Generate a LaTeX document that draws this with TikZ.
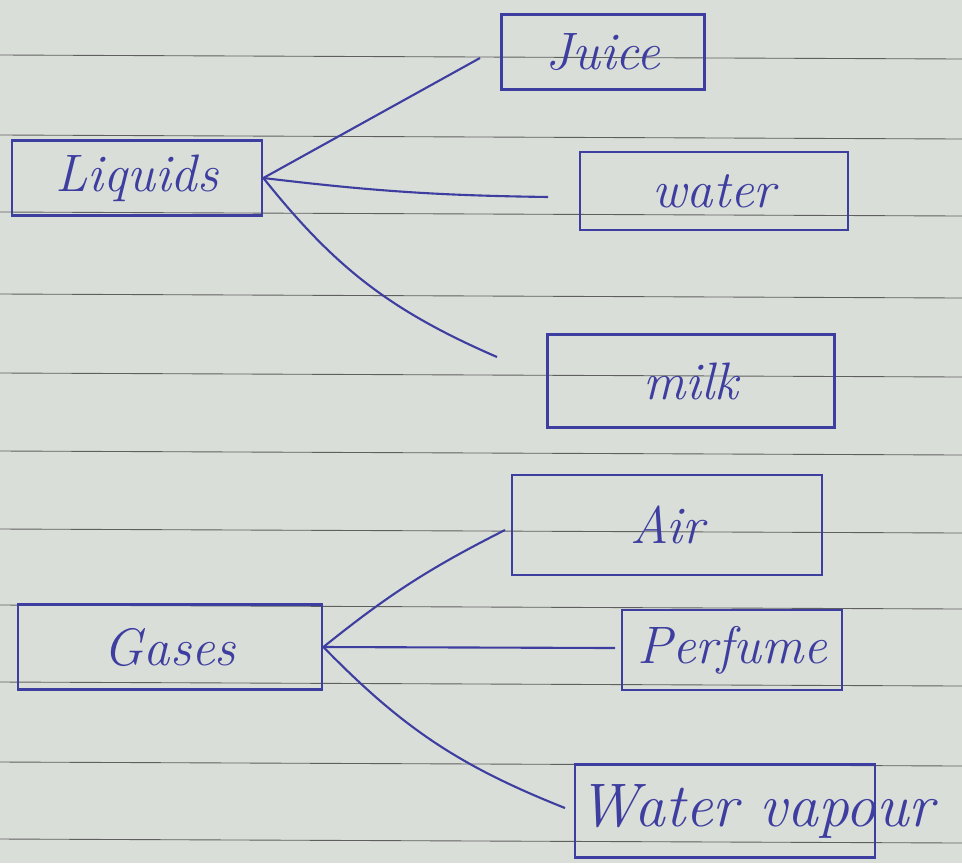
\documentclass[tikz,border=0pt]{standalone}
\usepackage{tikz}

\definecolor{ink}{RGB}{62,62,160}
\definecolor{paper}{RGB}{218,222,216}
\definecolor{rule}{RGB}{95,95,95}

\begin{document}
\begin{tikzpicture}[x=0.02cm,y=-0.02cm,
  box/.style={draw=ink,line width=1.6pt,inner sep=0pt,
    font=\fontsize{30}{34}\selectfont\itshape,text=ink},
  word/.style={inner sep=0pt,font=\fontsize{35}{40}\selectfont\itshape,text=ink},
  link/.style={draw=ink,line width=1.2pt}]
\fill[paper] (0,0) rectangle (962,863);
\useasboundingbox (0,0) rectangle (962,863);
\foreach \y in {55,135,212,294,373,451,529,605,682,762,839}
  \draw[rule,line width=0.5pt] (0,\y) -- (962,\y+4);

\node[box,minimum width=5cm,minimum height=1.5cm] (liquids) at (137,178) {Liquids};
\node[box,minimum width=4.06cm,minimum height=1.5cm] (juice) at (603,52) {Juice};
\node[box,minimum width=5.36cm,minimum height=1.56cm] (water) at (714,191) {water};
\node[box,minimum width=5.74cm,minimum height=1.86cm] (milk) at (691,381) {milk};

\node[box,minimum width=6.2cm,minimum height=2cm] (air) at (667,525) {Air};
\node[box,minimum width=6.08cm,minimum height=1.7cm] (gases) at (170,647) {Gases};
\node[box,minimum width=4.4cm,minimum height=1.6cm] (perfume) at (732,650) {Perfume};
\node[box,minimum width=6cm,minimum height=1.86cm] (vapour) at (725,811) {};
\node[word,anchor=west] (vapourtext) at ([xshift=0.1cm]vapour.west) {Water vapour};

\coordinate (juiceend) at (480,58);
\coordinate (waterend) at (548,197);
\coordinate (milkend) at (497,357);
\coordinate (airend) at (505,530);
\coordinate (perfumeend) at (615,648);
\coordinate (vapourend) at (565,808);

\draw[link] (liquids.east) -- (juiceend);
\draw[link] (liquids.east) to[bend right=3] (waterend);
\draw[link] (liquids.east) to[bend right=14] (milkend);
\draw[link] (gases.east) to[bend left=6] (airend);
\draw[link] (gases.east) -- (perfumeend);
\draw[link] (gases.east) to[bend right=12] (vapourend);
\end{tikzpicture}
\end{document}
